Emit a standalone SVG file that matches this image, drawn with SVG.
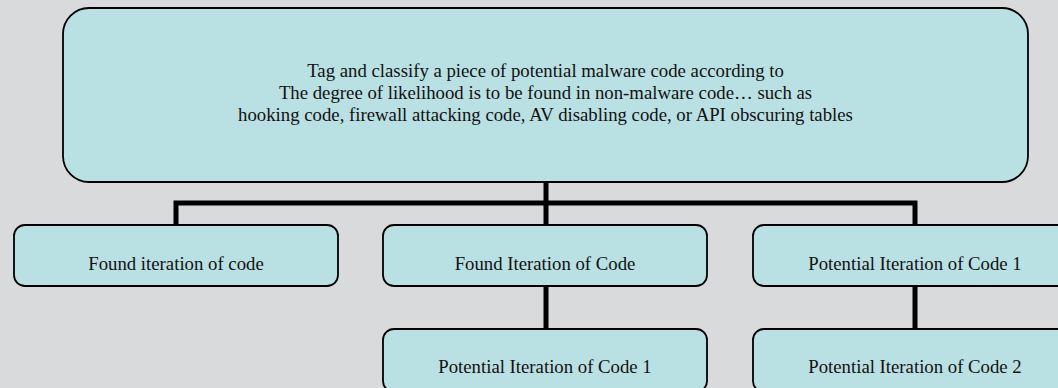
<svg xmlns="http://www.w3.org/2000/svg" width="1058" height="388" viewBox="0 0 1058 388">
<style>
.box{fill:#B9E0E3;stroke:#000;stroke-width:1.8}
.t{font-family:"Liberation Serif","Times New Roman",serif;font-size:18.75px;fill:#111;text-anchor:middle}
.c{stroke:#000;stroke-width:5;fill:none}
</style>
<rect width="1058" height="388" fill="#D9DADC"/>
<g id="connectors">
<path class="c" d="M176,225 V203 H915 V225"/>
<path class="c" d="M546,182 V225"/>
<path class="c" d="M546,286 V329"/>
<path class="c" d="M915,286 V329"/>
</g>
<g id="root">
<rect class="box" x="63" y="8" width="965" height="174" rx="26" ry="26"/>
<text class="t" x="545.5" y="77">Tag and classify a piece of potential malware code according to</text>
<text class="t" x="545.5" y="99">The degree of likelihood is to be found in non-malware code… such as</text>
<text class="t" x="545.5" y="121">hooking code, firewall attacking code, AV disabling code, or API obscuring tables</text>
</g>
<g id="n1">
<rect class="box" x="14" y="225" width="324" height="61" rx="11" ry="11"/>
<text class="t" x="176" y="270">Found iteration of code</text>
</g>
<g id="n2">
<rect class="box" x="383" y="225" width="324" height="61" rx="11" ry="11"/>
<text class="t" x="545" y="270">Found Iteration of Code</text>
</g>
<g id="n3">
<rect class="box" x="753" y="225" width="324" height="61" rx="11" ry="11"/>
<text class="t" x="915" y="270">Potential Iteration of Code 1</text>
</g>
<g id="n4">
<rect class="box" x="383" y="329" width="324" height="63" rx="11" ry="11"/>
<text class="t" x="545" y="373">Potential Iteration of Code 1</text>
</g>
<g id="n5">
<rect class="box" x="753" y="329" width="324" height="63" rx="11" ry="11"/>
<text class="t" x="915" y="373">Potential Iteration of Code 2</text>
</g>
</svg>
